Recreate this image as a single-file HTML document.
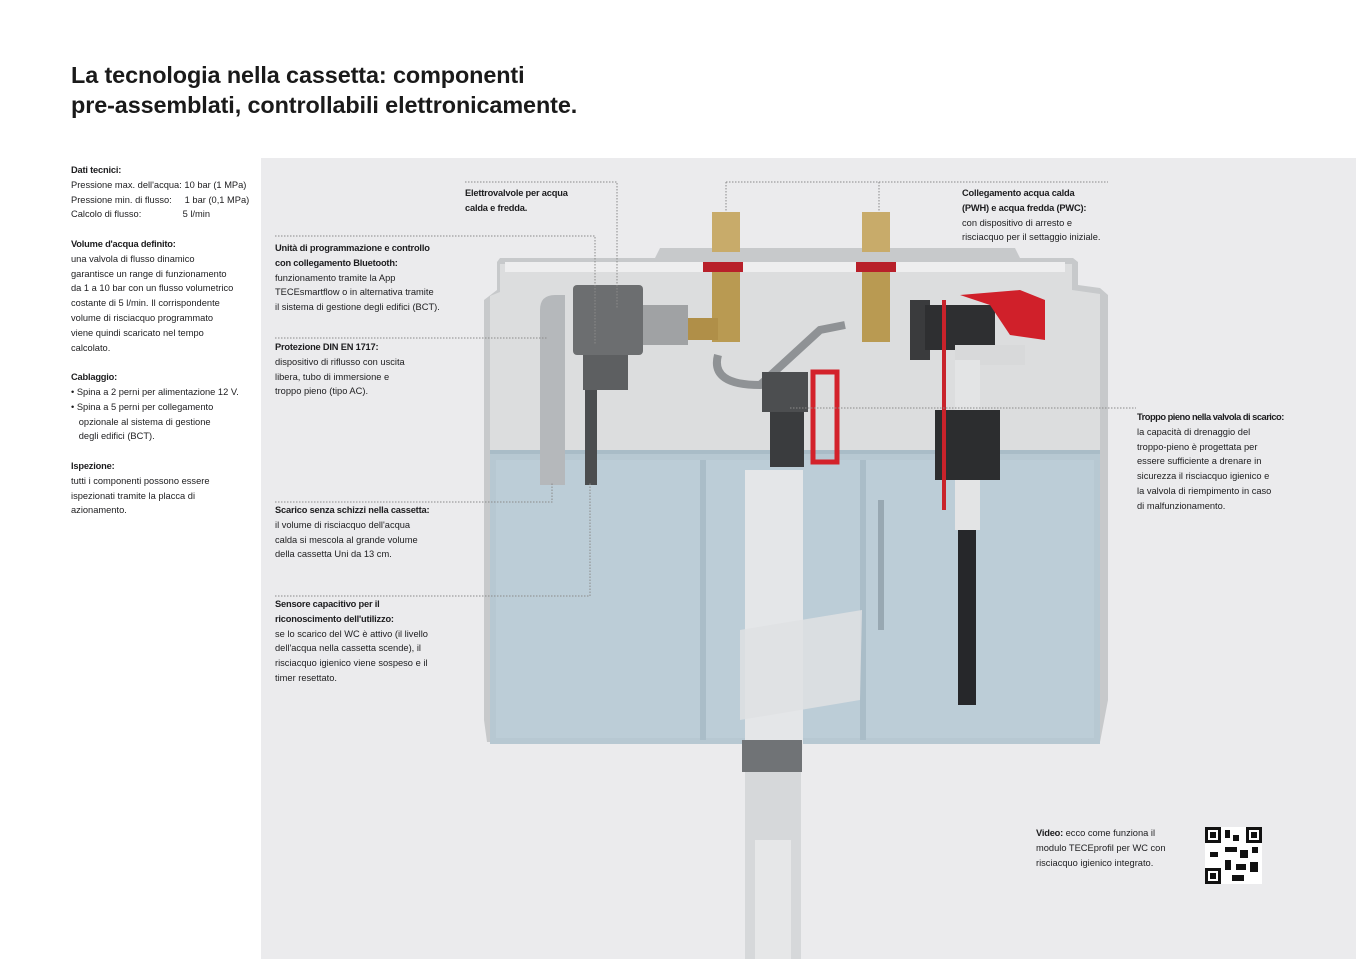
<!DOCTYPE html>
<html><head><meta charset="utf-8"><style>
body{margin:0;width:1356px;height:959px;background:#fff;position:relative;overflow:hidden;font-family:"Liberation Sans",sans-serif;color:#1d1d1f}
.t{position:absolute;font-size:9.3px;line-height:14.8px;white-space:nowrap}
b{font-weight:bold;letter-spacing:-0.2px}
h1{position:absolute;left:71px;top:60px;margin:0;font-size:23.4px;line-height:30px;font-weight:bold;color:#1a1a1a;letter-spacing:-0.1px}
#panel{position:absolute;left:261px;top:158px;width:1095px;height:801px;background:#ebebed}
svg{position:absolute;left:0;top:0}
</style></head><body>
<h1>La tecnologia nella cassetta: componenti<br>pre-assemblati, controllabili elettronicamente.</h1>
<div id="panel"></div>
<svg width="1356" height="959" viewBox="0 0 1356 959">
<rect x="745" y="745" width="56" height="214" fill="#d6d8da"/>
<rect x="755" y="840" width="36" height="119" fill="#e6e7e8"/>
<path d="M497 262 L500 258 L655 258 L660 248 L1015 248 L1020 258 L1073 258 L1078 262 L1078 285 L1100 288 L1108 295 L1108 700 L1100 742 L487 742 L484 720 L484 300 L497 290 Z" fill="#c7c9cb"/>
<path d="M500 264 L1072 264 L1072 290 L1100 294 L1100 452 L490 452 L490 296 L500 292 Z" fill="#dcddde"/>
<rect x="490" y="452" width="610" height="292" fill="#b7c8d2"/>
<rect x="496" y="460" width="598" height="278" fill="#bccdd7"/>
<rect x="490" y="450" width="610" height="4" fill="#a9bcc7"/>
<rect x="700" y="460" width="6" height="280" fill="#aabdc8"/>
<rect x="860" y="460" width="6" height="280" fill="#aabdc8"/>
<rect x="505" y="262" width="560" height="10" fill="#eeeeef"/>
<path d="M540 310 Q540 295 555 295 L565 295 L565 485 L540 485 Z" fill="#b5b8bb"/>
<rect x="573" y="285" width="70" height="70" rx="4" fill="#6c6e70"/>
<rect x="583" y="355" width="45" height="35" fill="#5d5f61"/>
<rect x="585" y="390" width="12" height="95" fill="#4b4d4f"/>
<rect x="643" y="305" width="45" height="40" fill="#a0a2a4"/>
<rect x="712" y="212" width="28" height="40" fill="#c8ab6a"/>
<rect x="862" y="212" width="28" height="40" fill="#c8ab6a"/>
<rect x="703" y="262" width="40" height="10" fill="#b8202a"/>
<rect x="856" y="262" width="40" height="10" fill="#b8202a"/>
<rect x="712" y="272" width="28" height="70" fill="#b99a52"/>
<rect x="862" y="272" width="28" height="70" fill="#b99a52"/>
<rect x="688" y="318" width="30" height="22" fill="#b08f48"/>
<path d="M718 355 Q710 385 760 385 L820 330 L845 325" stroke="#8f9295" stroke-width="8" fill="none"/>
<rect x="910" y="300" width="20" height="60" fill="#3a3b3d"/>
<rect x="925" y="305" width="70" height="45" fill="#2e2f31"/>
<path d="M960 295 L1020 290 L1045 300 L1045 340 L1010 335 L990 305 Z" fill="#d0202a"/>
<rect x="955" y="345" width="70" height="20" fill="#d8d9da"/>
<rect x="955" y="360" width="25" height="170" fill="#e3e4e5"/>
<rect x="935" y="410" width="65" height="70" fill="#2c2d2f"/>
<rect x="942" y="300" width="4" height="210" fill="#c9232b"/>
<rect x="958" y="530" width="18" height="175" fill="#26272a"/>
<rect x="762" y="372" width="46" height="40" fill="#4c4e50"/>
<rect x="770" y="412" width="34" height="55" fill="#3a3c3e"/>
<rect x="813" y="372" width="24" height="90" fill="none" stroke="#d3222b" stroke-width="5"/>
<rect x="745" y="470" width="58" height="280" fill="#e4e6e8"/>
<path d="M740 630 L862 610 L860 700 L740 720 Z" fill="#dfe1e3" opacity=".85"/>
<rect x="742" y="740" width="60" height="32" fill="#707376"/>
<rect x="878" y="500" width="6" height="130" fill="#98a8b2"/>
<g stroke="#8a8a8a" stroke-width="1" stroke-dasharray="1.5 1.5" fill="none">
<path d="M465 182 H617 V308"/>
<path d="M275 236 H595 V345"/>
<path d="M275 338 H548"/>
<path d="M275 502 H552 V482"/>
<path d="M275 596 H590 V482"/>
<path d="M726 182 H1108"/><path d="M726 182 V212"/><path d="M879 182 V212"/>
<path d="M790 408 H1136"/>
</g>
<rect x="1205" y="827" width="57" height="57" fill="#fff"/>
<g fill="#111"><rect x="1205" y="827" width="16" height="16"/><rect x="1246" y="827" width="16" height="16"/><rect x="1205" y="868" width="16" height="16"/>
<rect x="1225" y="830" width="5" height="8"/><rect x="1233" y="835" width="6" height="6"/><rect x="1225" y="847" width="12" height="5"/><rect x="1240" y="850" width="8" height="8"/><rect x="1210" y="852" width="8" height="5"/><rect x="1225" y="860" width="6" height="10"/><rect x="1236" y="864" width="10" height="6"/><rect x="1250" y="862" width="8" height="10"/><rect x="1232" y="875" width="12" height="6"/><rect x="1252" y="847" width="6" height="6"/></g>
<g fill="#fff"><rect x="1208" y="830" width="10" height="10"/><rect x="1249" y="830" width="10" height="10"/><rect x="1208" y="871" width="10" height="10"/></g>
<g fill="#111"><rect x="1210" y="832" width="6" height="6"/><rect x="1251" y="832" width="6" height="6"/><rect x="1210" y="873" width="6" height="6"/></g>
</svg>
<div class="t" style="left:71px;top:163px"><b>Dati tecnici:</b><br>Pressione max. dell'acqua: 10 bar (1 MPa)<br>Pressione min. di flusso: &nbsp;&nbsp;&nbsp;&nbsp;1 bar (0,1 MPa)<br>Calcolo di flusso: &nbsp;&nbsp;&nbsp;&nbsp;&nbsp;&nbsp;&nbsp;&nbsp;&nbsp;&nbsp;&nbsp;&nbsp;&nbsp;&nbsp;&nbsp;5 l/min<br><br><b>Volume d'acqua definito:</b><br>una valvola di flusso dinamico<br>garantisce un range di funzionamento<br>da 1 a 10 bar con un flusso volumetrico<br>costante di 5 l/min. Il corrispondente<br>volume di risciacquo programmato<br>viene quindi scaricato nel tempo<br>calcolato.<br><br><b>Cablaggio:</b><br>• Spina a 2 perni per alimentazione 12 V.<br>• Spina a 5 perni per collegamento<br>&nbsp;&nbsp;&nbsp;opzionale al sistema di gestione<br>&nbsp;&nbsp;&nbsp;degli edifici (BCT).<br><br><b>Ispezione:</b><br>tutti i componenti possono essere<br>ispezionati tramite la placca di<br>azionamento.</div>
<div class="t" style="left:465px;top:186px"><b>Elettrovalvole per acqua<br>calda e fredda.</b></div>
<div class="t" style="left:275px;top:241px"><b>Unità di programmazione e controllo<br>con collegamento Bluetooth:</b><br>funzionamento tramite la App<br>TECEsmartflow o in alternativa tramite<br>il sistema di gestione degli edifici (BCT).</div>
<div class="t" style="left:275px;top:340px"><b>Protezione DIN EN 1717:</b><br>dispositivo di riflusso con uscita<br>libera, tubo di immersione e<br>troppo pieno (tipo AC).</div>
<div class="t" style="left:275px;top:503px"><b>Scarico senza schizzi nella cassetta:</b><br>il volume di risciacquo dell'acqua<br>calda si mescola al grande volume<br>della cassetta Uni da 13 cm.</div>
<div class="t" style="left:275px;top:597px"><b>Sensore capacitivo per il<br>riconoscimento dell'utilizzo:</b><br>se lo scarico del WC è attivo (il livello<br>dell'acqua nella cassetta scende), il<br>risciacquo igienico viene sospeso e il<br>timer resettato.</div>
<div class="t" style="left:962px;top:186px"><b>Collegamento acqua calda<br>(PWH) e acqua fredda (PWC):</b><br>con dispositivo di arresto e<br>risciacquo per il settaggio iniziale.</div>
<div class="t" style="left:1137px;top:410px"><b style="letter-spacing:-0.5px">Troppo pieno nella valvola di scarico:</b><br>la capacità di drenaggio del<br>troppo-pieno è progettata per<br>essere sufficiente a drenare in<br>sicurezza il risciacquo igienico e<br>la valvola di riempimento in caso<br>di malfunzionamento.</div>
<div class="t" style="left:1036px;top:826px"><b>Video:</b> ecco come funziona il<br>modulo TECEprofil per WC con<br>risciacquo igienico integrato.</div>
</body></html>
